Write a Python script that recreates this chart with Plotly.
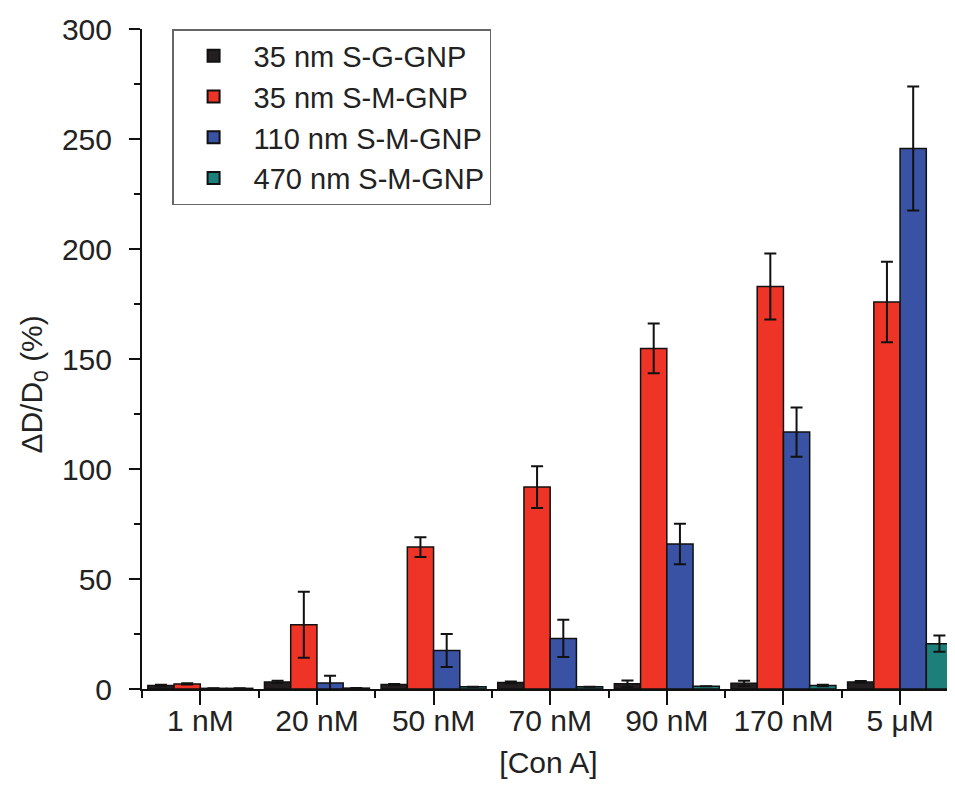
import numpy as np
import plotly.graph_objects as go

categories = ["1 nM", "20 nM", "50 nM", "70 nM", "90 nM", "170 nM", "5 \u03bcM"]
series_names = ["35 nm S-G-GNP", "35 nm S-M-GNP", "110 nm S-M-GNP", "470 nm S-M-GNP"]

sg35 = [1.6, 3.2, 2.0, 3.0, 2.4, 2.6, 3.2]
sg35_err = [0.3, 0.5, 0.3, 0.4, 1.5, 1.2, 0.4]
sm35 = [2.3, 29.2, 64.5, 91.8, 154.8, 183.0, 175.9]
sm35_err = [0.3, 15.0, 4.5, 9.5, 11.3, 15.0, 18.3]
sm110 = [0.3, 2.7, 17.5, 23.0, 65.9, 116.8, 245.7]
sm110_err = [0.0, 3.3, 7.5, 8.5, 9.2, 11.2, 28.2]
sm470 = [0.3, 0.4, 1.0, 1.0, 1.3, 1.6, 20.6]
sm470_err = [0.0, 0.0, 0.0, 0.0, 0.0, 0.3, 3.7]

values = [sg35, sm35, sm110, sm470]
errors = [sg35_err, sm35_err, sm110_err, sm470_err]
colors = ["#231f20", "#ee3427", "#3a52a3", "#1c7f7a"]

y_title = "\u0394D/D<sub>0</sub> (%)"
x_title = "[Con A]"

x = np.arange(len(categories))
FONT = "Arial, Liberation Sans, sans-serif"
TXT = "#222222"

fig = go.Figure()
for name, v, e, c in zip(series_names, values, errors, colors):
    fig.add_trace(go.Bar(
        x=x, y=v, name=name,
        marker=dict(color=c, line=dict(color="#111111", width=1.5)),
        error_y=dict(type="data", array=e, visible=True, color="#111111",
                     thickness=2, width=6),
    ))

fig.update_layout(
    width=955, height=807,
    margin=dict(l=134, r=8, t=21, b=126, autoexpand=False),
    barmode="group", bargap=0.1, bargroupgap=0,
    plot_bgcolor="white", paper_bgcolor="white",
    font=dict(family=FONT, size=30, color=TXT),
    showlegend=True,
    legend=dict(
        x=0.037, y=1.0, xanchor="left", yanchor="top",
        bordercolor="#666666", borderwidth=1.5, bgcolor="white",
        font=dict(family=FONT, size=29, color=TXT),
        tracegroupgap=0, itemsizing="constant", itemwidth=70,
    ),
    xaxis=dict(
        range=[-0.5, 6.471], tickmode="array", tickvals=x, ticktext=categories,
        automargin=False,
        showline=True, linecolor="#111111", linewidth=2,
        ticks="outside", ticklen=14, tickwidth=2, tickcolor="#111111",
        minor=dict(tickmode="linear", tick0=0.5, dtick=1, ticks="outside",
                   ticklen=7, tickwidth=2, tickcolor="#111111"),
        showgrid=False, zeroline=False,
        ticklabelstandoff=-10,
        tickfont=dict(family=FONT, size=30, color=TXT),
        title=dict(text=x_title, font=dict(family=FONT, size=30, color=TXT),
                   standoff=16),
    ),
    yaxis=dict(
        range=[0, 300], dtick=50, tick0=0, automargin=False,
        showline=True, linecolor="#111111", linewidth=2,
        ticks="outside", ticklen=11, tickwidth=2, tickcolor="#111111",
        minor=dict(dtick=25, ticks="outside", ticklen=6, tickwidth=2,
                   tickcolor="#111111"),
        showgrid=False, zeroline=False,
        ticklabelstandoff=11,
        tickfont=dict(family=FONT, size=30, color=TXT),
    ),
    annotations=[dict(
        text=y_title, textangle=-90, showarrow=False,
        xref="paper", yref="paper", x=-0.133, y=0.461,
        xanchor="center", yanchor="middle",
        font=dict(family=FONT, size=30, color=TXT),
    )],
)

fig.write_html("out.html")
